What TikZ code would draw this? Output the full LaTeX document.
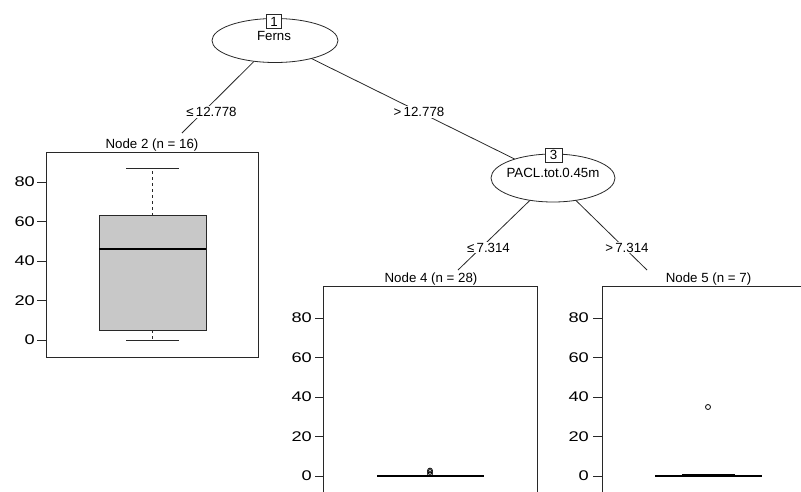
\documentclass[tikz,border=0pt]{standalone}
\usepackage{fontspec}
\setmainfont{Liberation Sans}
\usetikzlibrary{shapes.geometric,backgrounds}
\definecolor{boxgray}{RGB}{200,200,200}
\definecolor{ink}{RGB}{40,40,40}
\begin{document}
\begin{tikzpicture}[x=1pt,y=-1pt,
  font=\fontsize{13.3}{15}\selectfont,
  edge/.style={line width=0.8pt, draw=ink},
  split/.style={ellipse, draw=ink, fill=white, line width=0.8pt, inner sep=0pt},
  idbox/.style={draw=ink, fill=white, line width=0.8pt, minimum width=15pt, minimum height=14pt, inner sep=0pt},
  elabel/.style={fill=white, inner sep=1pt, anchor=base},
  ttl/.style={anchor=base, inner sep=0pt},
  panel/.style={draw=ink, line width=0.8pt},
  tick/.style={draw=ink, line width=0.8pt},
  ticklab/.style={anchor=east, inner sep=0pt, font=\fontsize{14}{15}\selectfont},
  med/.style={line width=2pt, draw=black},
  whisk/.style={line width=0.8pt, draw=ink},
  outl/.style={draw=black, line width=0.8pt}
]
\clip (0,0) rectangle (801,491);
\useasboundingbox (0,0) rectangle (801,491);

% split nodes
\node[split, minimum width=126pt, minimum height=44pt] (n1) at (275,40.5) {};
\node[idbox] (id1) at (274,21.5) {1};
\node[ttl] (t1) at (274,40) {Ferns};

\node[split, minimum width=124pt, minimum height=48pt] (n3) at (553,178) {};
\node[idbox, minimum width=17pt] (id3) at (553.5,155) {3};
\node[ttl] (t3) at (553,177) {PACL.tot.0.45m};

% edge end points at terminal titles
\coordinate (c2) at (182,133);
\coordinate (c4) at (458,270);
\coordinate (c5) at (647,270);

\begin{pgfonlayer}{background}
\draw[edge] (n1.center) -- (c2);
\draw[edge] (n1.center) -- (n3.center);
\draw[edge] (n3.center) -- (c4);
\draw[edge] (n3.center) -- (c5);
\end{pgfonlayer}

% edge labels
\node[elabel] (l12) at (211.5,116.5) {≤\,12.778};
\node[elabel] (l13) at (419,116.5) {>\,12.778};
\node[elabel] (l34) at (488.5,252) {≤\,7.314};
\node[elabel] (l35) at (627,252) {>\,7.314};

% ---------- Node 2 panel ----------
\node[ttl] (h2) at (152,148) {Node 2 (n = 16)};
\draw[panel] (46,152) rectangle (258,357);
\foreach \v in {0,20,40,60,80}{
  \draw[tick] (37,{340-1.975*\v}) -- (46,{340-1.975*\v});
  \node[ticklab] at (35,{340-1.975*\v}) {\scalebox{1.3}[1]{\v}};
}
\filldraw[fill=boxgray, draw=ink, line width=0.8pt] (99,215.6) rectangle (206,330.1);
\draw[med] (99,249.1) -- (206,249.1);
\draw[whisk, dashed] (152.5,215.6) -- (152.5,168.2);
\draw[whisk] (126,168.2) -- (179,168.2);
\draw[whisk, dashed] (152.5,330.1) -- (152.5,340);
\draw[whisk] (126,340) -- (179,340);

% ---------- Node 4 panel ----------
\node[ttl] (h4) at (431,282.5) {Node 4 (n = 28)};
\draw[panel] (323,286) rectangle (537,520);
\foreach \v in {0,20,40,60,80}{
  \draw[tick] (315,{476-1.975*\v}) -- (323,{476-1.975*\v});
  \node[ticklab] at (312,{476-1.975*\v}) {\scalebox{1.3}[1]{\v}};
}
\draw[med] (377,476) -- (484,476);
\draw[outl] (430,474) circle (2.4);
\draw[outl] (430,472) circle (2.4);
\draw[outl] (430,470.5) circle (2.4);

% ---------- Node 5 panel ----------
\node[ttl] (h5) at (708.5,282.5) {Node 5 (n = 7)};
\draw[panel] (602,286) rectangle (816,520);
\foreach \v in {0,20,40,60,80}{
  \draw[tick] (593,{476-1.975*\v}) -- (602,{476-1.975*\v});
  \node[ticklab] at (589,{476-1.975*\v}) {\scalebox{1.3}[1]{\v}};
}
\draw[med] (655,476) -- (762,476);
\fill[black] (682,474) rectangle (735,477.3);
\draw[outl] (708,407) circle (2.5);
\end{tikzpicture}
\end{document}
